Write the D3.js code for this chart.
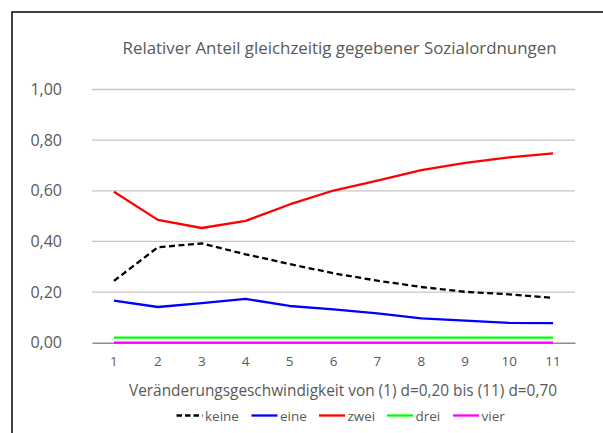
<!DOCTYPE html>
<html>
<head>
<meta charset="utf-8">
<script src="https://cdn.jsdelivr.net/npm/d3@7"></script>
<style>
  body { margin: 0; background: #fff; }
  text { font-family: "Open Sans", "Noto Sans", sans-serif; fill: #595959; }
</style>
</head>
<body>
<div id="chart"></div>
<script>
// chart data
const categories = ["1", "2", "3", "4", "5", "6", "7", "8", "9", "10", "11"];
const keine = [0.244, 0.377, 0.392, 0.349, 0.311, 0.274, 0.245, 0.220, 0.201, 0.191, 0.177];
const eine  = [0.166, 0.141, 0.156, 0.173, 0.145, 0.132, 0.116, 0.096, 0.087, 0.078, 0.077];
const zwei  = [0.596, 0.485, 0.453, 0.481, 0.546, 0.601, 0.640, 0.682, 0.710, 0.732, 0.748];
const drei  = [0.02, 0.02, 0.02, 0.02, 0.02, 0.02, 0.02, 0.02, 0.02, 0.02, 0.02];
const vier  = [0, 0, 0, 0, 0, 0, 0, 0, 0, 0, 0];
const yTicks = [0, 0.2, 0.4, 0.6, 0.8, 1.0];
const seriesNames = ["keine", "eine", "zwei", "drei", "vier"];

const title = "Relativer Anteil gleichzeitig gegebener Sozialordnungen";
const xTitle = "Veränderungsgeschwindigkeit von (1) d=0,20 bis (11) d=0,70";

const series = [
  { name: "keine", values: keine, color: "#000000", dash: "6,3.5" },
  { name: "eine", values: eine, color: "#0000ff", dash: null },
  { name: "zwei", values: zwei, color: "#ff0000", dash: null },
  { name: "drei", values: drei, color: "#00ff00", dash: null },
  { name: "vier", values: vier, color: "#ff00ff", dash: null }
];

const W = 603, H = 433;
const plot = { left: 92, right: 575, top: 89.5, bottom: 342.7 };

const de = d3.formatLocale({ decimal: ",", thousands: ".", grouping: [3], currency: ["", "€"] });
const fmt = de.format(".2f");

const svg = d3.select("#chart").append("svg")
  .attr("width", W)
  .attr("height", H);

// outer frame (only left and top are visible in the picture)
svg.append("rect")
  .attr("x", 12).attr("y", 12)
  .attr("width", W + 20).attr("height", H + 20)
  .attr("fill", "#fff")
  .attr("stroke", "#000")
  .attr("stroke-width", 1.5);

// title
svg.append("text")
  .attr("x", 339.5).attr("y", 53.5)
  .attr("text-anchor", "middle")
  .attr("textLength", 434)
  .attr("lengthAdjust", "spacingAndGlyphs")
  .style("font-size", "16.5px")
  .text(title);

const x = d3.scaleBand()
  .domain(categories)
  .range([plot.left, plot.right]);

const y = d3.scaleLinear()
  .domain([0, 1])
  .range([plot.bottom, plot.top]);

// gridlines
svg.append("g")
  .selectAll("line")
  .data(yTicks.filter(d => d > 0))
  .enter()
  .append("line")
  .attr("x1", plot.left)
  .attr("x2", plot.right)
  .attr("y1", d => y(d))
  .attr("y2", d => y(d))
  .attr("stroke", "#c6c6c6")
  .attr("stroke-width", 1.3);

// y axis labels
const yAxis = svg.append("g")
  .attr("transform", "translate(" + plot.left + ",0)")
  .call(d3.axisLeft(y).tickValues(yTicks).tickFormat(fmt).tickSize(0).tickPadding(30));
yAxis.select(".domain").remove();
yAxis.selectAll("text")
  .style("font-size", "16px")
  .style("fill", "#595959")
  .style("font-family", "\"Open Sans\", sans-serif");

// x axis
const xAxis = svg.append("g")
  .attr("transform", "translate(0," + plot.bottom + ")")
  .call(d3.axisBottom(x).tickSize(0).tickPadding(14));
xAxis.select(".domain")
  .attr("stroke", "#8c8c8c")
  .attr("stroke-width", 1.5);
xAxis.selectAll("text")
  .style("font-size", "13.5px")
  .style("fill", "#595959")
  .style("font-family", "\"Open Sans\", sans-serif");

// x axis title
svg.append("text")
  .attr("x", 343).attr("y", 395.5)
  .attr("text-anchor", "middle")
  .attr("textLength", 428)
  .attr("lengthAdjust", "spacingAndGlyphs")
  .style("font-size", "15.5px")
  .text(xTitle);

// lines
const line = d3.line()
  .x((d, i) => x(categories[i]) + x.bandwidth() / 2)
  .y(d => y(d));

svg.append("g")
  .selectAll("path")
  .data(series.slice().reverse())
  .enter()
  .append("path")
  .attr("d", d => line(d.values))
  .attr("fill", "none")
  .attr("stroke", d => d.color)
  .attr("stroke-width", 2.3)
  .attr("stroke-dasharray", d => d.dash)
  .attr("stroke-linejoin", "round");

// legend
const legendX = [176.5, 251.5, 319, 387, 453];
const legend = svg.append("g")
  .selectAll("g")
  .data(series)
  .enter()
  .append("g")
  .attr("transform", (d, i) => "translate(" + legendX[i] + ",415.5)");

legend.append("line")
  .attr("x1", 0).attr("x2", 26)
  .attr("y1", 0).attr("y2", 0)
  .attr("stroke", d => d.color)
  .attr("stroke-width", 2.3)
  .attr("stroke-dasharray", d => d.dash ? "5.5,3" : null);

legend.append("text")
  .attr("x", 28.5)
  .attr("y", 5)
  .style("font-size", "13.5px")
  .text((d, i) => seriesNames[i]);
</script>
</body>
</html>
